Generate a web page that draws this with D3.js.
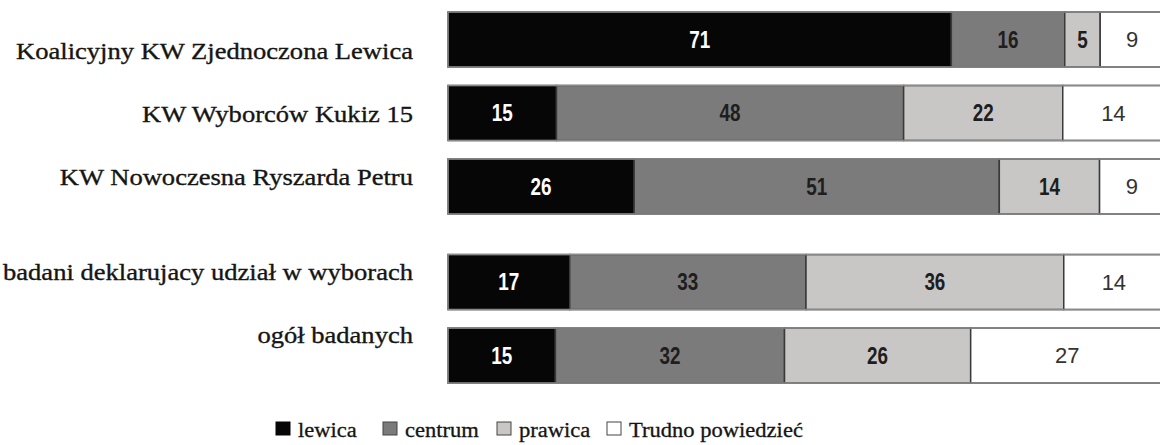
<!DOCTYPE html>
<html>
<head>
<meta charset="utf-8">
<script src="https://cdn.jsdelivr.net/npm/d3@7"></script>
<style>
  html, body { margin: 0; padding: 0; background: #fff; }
  svg { display: block; }
  .serif { font-family: "Liberation Serif", "Times New Roman", Tinos, "DejaVu Serif", serif; }
  .sans { font-family: "Liberation Sans", Arial, Arimo, sans-serif; }
</style>
</head>
<body>
<svg id="chart" width="1160" height="445"></svg>
<script>
const categories = [
  "Koalicyjny KW Zjednoczona Lewica",
  "KW Wyborców Kukiz 15",
  "KW Nowoczesna Ryszarda Petru",
  "badani deklarujacy udział w wyborach",
  "ogół badanych"
];
const seriesNames = ["lewica", "centrum", "prawica", "Trudno powiedzieć"];
const lewica  = [71, 15, 26, 17, 15];
const centrum = [16, 48, 51, 33, 32];
const prawica = [5, 22, 14, 36, 26];
const trudno  = [9, 14, 9, 14, 27];

const seriesValues = [lewica, centrum, prawica, trudno];
const colors = ["#060606", "#7b7b7b", "#c9c7c5", "#ffffff"];

const table = categories.map((c, i) => {
  const row = { category: c, index: i };
  seriesNames.forEach((s, k) => row[s] = seriesValues[k][i]);
  return row;
});

const stack = d3.stack().keys(seriesNames).offset(d3.stackOffsetExpand);
const stacked = stack(table);

const svg = d3.select("#chart");
const x = d3.scaleLinear().domain([0, 1]).range([448, 1164]);
const rowPos = i => i + (i >= 3 ? 0.3 : 0);
const y = d3.scaleLinear().domain([0, 1]).range([12, 85.5]);
const barH = 55;
const labelY = d3.scaleLinear().domain([0, 1]).range([59, 122]);
const labelPos = i => i + (i >= 3 ? 0.5 : 0);

const stretch = 1.13;
function fitWidth(sel, factor) {
  sel.each(function () {
    const len = this.getComputedTextLength();
    d3.select(this).attr("textLength", len * factor).attr("lengthAdjust", "spacingAndGlyphs");
  });
}

const groups = svg.append("g").selectAll("g")
  .data(stacked).join("g")
  .attr("fill", (d, k) => colors[k]);

groups.selectAll("rect")
  .data(d => d.map(p => Object.assign(p, { key: d.key })))
  .join("rect")
  .attr("x", d => x(d[0]))
  .attr("y", d => y(rowPos(d.data.index)))
  .attr("width", d => x(d[1]) - x(d[0]))
  .attr("height", barH)
  .attr("stroke", "#3a3a3a")
  .attr("stroke-width", 1.5);

svg.append("g").selectAll("rect")
  .data(table).join("rect")
  .attr("x", x(0))
  .attr("y", d => y(rowPos(d.index)))
  .attr("width", x(1) - x(0))
  .attr("height", barH)
  .attr("fill", "none")
  .attr("stroke", "#8a8a8a")
  .attr("stroke-width", 1.5);

stacked.forEach((layer, k) => {
  const t = svg.append("g").selectAll("text")
    .data(layer).join("text")
    .attr("class", "sans")
    .attr("x", d => (x(d[0]) + x(d[1])) / 2)
    .attr("y", d => y(rowPos(d.data.index)) + barH / 2)
    .attr("dy", "0.36em")
    .attr("text-anchor", "middle")
    .attr("font-weight", k === 3 ? "normal" : "bold")
    .attr("font-size", k === 3 ? 22 : 23)
    .attr("fill", k === 0 ? "#ffffff" : (k === 3 ? "#333333" : "#1e1e1e"))
    .text(d => d.data[layer.key]);
  if (k !== 3) fitWidth(t, 0.82);
});

const catText = svg.append("g").selectAll("text")
  .data(table).join("text")
  .attr("class", "serif")
  .attr("x", 413)
  .attr("y", d => labelY(labelPos(d.index)))
  .attr("text-anchor", "end")
  .attr("font-size", 23.5)
  .attr("fill", "#151515")
  .attr("stroke", "#151515")
  .attr("stroke-width", 0.35)
  .text(d => d.category);
fitWidth(catText, stretch);

const legendX = [276, 383, 497, 607];
const legend = svg.append("g").selectAll("g")
  .data(seriesNames).join("g")
  .attr("transform", (d, k) => `translate(${legendX[k]},0)`);
legend.append("rect")
  .attr("x", 0).attr("y", 422)
  .attr("width", 14).attr("height", 13)
  .attr("fill", (d, k) => colors[k])
  .attr("stroke", (d, k) => k === 0 ? "#060606" : "#444")
  .attr("stroke-width", 1);
const legText = legend.append("text")
  .attr("class", "serif")
  .attr("x", 22).attr("y", 437)
  .attr("font-size", 20.5)
  .attr("fill", "#151515")
  .attr("stroke", "#151515")
  .attr("stroke-width", 0.3)
  .text(d => d);
fitWidth(legText, 1.1);
</script>
</body>
</html>
